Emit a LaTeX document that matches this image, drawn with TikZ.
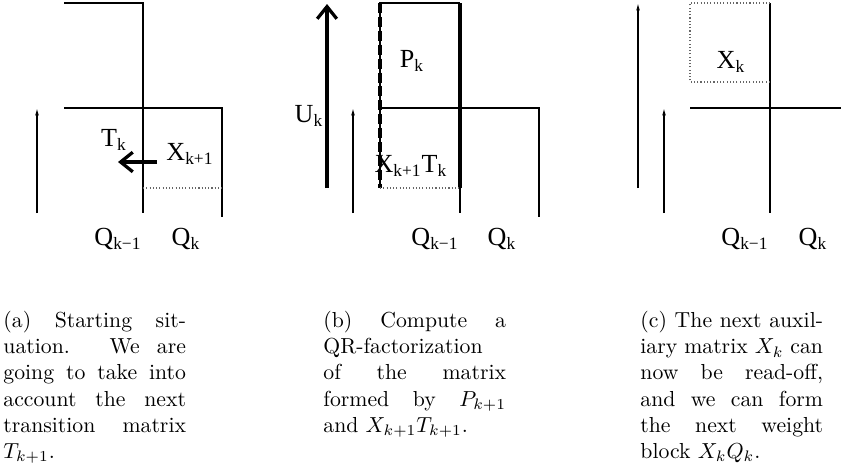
\documentclass[tikz,border=0pt]{standalone}
\usepackage{amsmath}
\usepackage{fontspec}
\newfontfamily\timesfont{Liberation Serif}
\usetikzlibrary{arrows.meta}

\begin{document}
\begin{tikzpicture}[x=0.46pt, y=-0.46pt, every node/.style={inner sep=0pt},
  lbl/.style={font=\timesfont\fontsize{12}{14}\selectfont},
  captext/.style={anchor=north west, text width=84pt, align=justify,
    font=\fontsize{10}{12}\selectfont},
  edge/.style={line width=0.5pt},
  dotbox/.style={densely dotted, line width=0.5pt, black!60},
  thinup/.style={-{Latex[length=3.4pt, width=1.7pt]}, line width=0.5pt},
  fat/.style={-{Straight Barb[length=5.6pt, width=9pt]}, line width=1.5pt},
  fatdash/.style={line width=1.5pt, dash pattern=on 4.6pt off 1.8pt}]
\useasboundingbox (0,0) rectangle (841,464);

% (a)
\coordinate (a0) at (37,213); \coordinate (a1) at (37,108);
\coordinate (t0) at (157,162); \coordinate (t1) at (118,162);
\draw[edge] (64,3) -- (143,3) -- (143,213);
\draw[edge] (64,108) -- (222,108) -- (222,217);
\draw[dotbox] (143,188) -- (222,188);
\draw[thinup] (a0) -- (a1);
\draw[fat] (t0) -- (t1);
\node[lbl] (Ta) at (114,140) {T\textsubscript{k}};
\node[lbl] (Xa) at (190,154) {X\textsubscript{k+1}};
\node[lbl] (Qa1) at (118,239) {Q\textsubscript{k−1}};
\node[lbl] (Qa2) at (186,239) {Q\textsubscript{k}};

% (b)
\coordinate (b0) at (353,213); \coordinate (b1) at (353,108);
\coordinate (u0) at (327,188); \coordinate (u1) at (327,4);
\draw[edge] (380,188) -- (380,3) -- (460,3);
\draw[edge] (380,108) -- (539,108) -- (539,217);
\draw[edge] (460,188) -- (460,213);
\draw[line width=1.5pt] (460,3) -- (460,188);
\draw[fatdash] (380,3) -- (380,188);
\draw[dotbox] (380,188) -- (460,188);
\draw[thinup] (b0) -- (b1);
\draw[fat] (u0) -- (u1);
\node[lbl] (Ub) at (309,116) {U\textsubscript{k}};
\node[lbl] (Pb) at (412,61) {P\textsubscript{k}};
\node[lbl] (XTb) at (411,166) {X\textsubscript{k+1}T\textsubscript{k}};
\node[lbl] (Qb1) at (435,239) {Q\textsubscript{k−1}};
\node[lbl] (Qb2) at (502,239) {Q\textsubscript{k}};

% (c)
\coordinate (c0) at (664,213); \coordinate (c1) at (664,108);
\coordinate (d0) at (638,188); \coordinate (d1) at (638,3);
\draw[edge] (770,3) -- (770,213);
\draw[edge] (690,108) -- (841,108);
\draw[dotbox] (770,82) -- (690,82) -- (690,3) -- (770,3);
\draw[thinup] (c0) -- (c1);
\draw[thinup] (d0) -- (d1);
\node[lbl] (Xc) at (731,62) {X\textsubscript{k}};
\node[lbl] (Qc1) at (745,239) {Q\textsubscript{k−1}};
\node[lbl] (Qc2) at (813,239) {Q\textsubscript{k}};

\node[captext] (capa) at (3,311) {(a) Starting sit-\linebreak uation. We are\linebreak
  going to take into\linebreak account the next\linebreak transition matrix\linebreak
  $T_{k+1}$.};
\node[captext] (capb) at (323,311) {(b) Compute a\linebreak QR-factorization\linebreak
  of the matrix\linebreak formed by $P_{k+1}$\linebreak and $X_{k+1}T_{k+1}$.};
\node[captext] (capc) at (640,311) {(c) The next auxil-\linebreak iary matrix $X_k$ can\linebreak
  now be read-off,\linebreak and we can form\linebreak the next weight\linebreak
  block $X_kQ_k$.};
\end{tikzpicture}
\end{document}
